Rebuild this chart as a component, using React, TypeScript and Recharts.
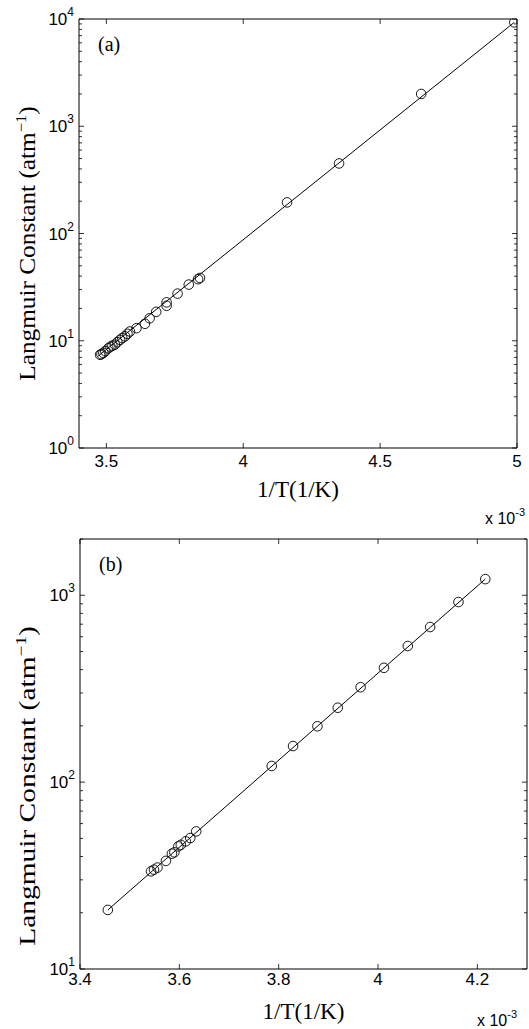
import React from "react";
import { ComposedChart, Scatter, Line, XAxis, YAxis, ReferenceArea } from "recharts";

// panel (a) — 1/T in units of 1e-3 1/K, Langmuir constant in atm^-1
const invTempA = [
  3.477, 3.482, 3.489, 3.496, 3.507, 3.515, 3.522, 3.531, 3.54, 3.55, 3.558, 3.568, 3.577,
  3.586, 3.61, 3.641, 3.658, 3.682, 3.72, 3.72, 3.76, 3.801, 3.835, 3.842, 4.16, 4.35, 4.65, 4.99,
];
const langmuirA = [
  7.4, 7.5, 7.7, 8.0, 8.5, 8.8, 9.0, 9.2, 9.7, 10.2, 10.6, 11.0, 11.6,
  12.2, 13.1, 14.4, 16.2, 18.6, 22.8, 21.2, 27.5, 33.4, 37.5, 38.5, 195, 450, 2000, 9300,
];
const fitInvTempA = [3.47, 4.99];
const fitLangmuirA = [7.2, 9300];
const xTicksA = [3.5, 4, 4.5, 5];
const yTicksA = [
  1, 2, 3, 4, 5, 6, 7, 8, 9,
  10, 20, 30, 40, 50, 60, 70, 80, 90,
  100, 200, 300, 400, 500, 600, 700, 800, 900,
  1000, 2000, 3000, 4000, 5000, 6000, 7000, 8000, 9000,
  10000,
];

// panel (b)
const invTempB = [
  3.456, 3.543, 3.549, 3.556, 3.573, 3.585, 3.59, 3.598, 3.603, 3.613, 3.622, 3.634,
  3.786, 3.829, 3.878, 3.919, 3.965, 4.012, 4.06, 4.105, 4.162, 4.216,
];
const langmuirB = [
  20.7, 33.3, 34.0, 34.9, 37.9, 41.4, 42.1, 45.3, 46.2, 48.2, 50.2, 54.5,
  122, 156, 199, 250, 322, 409, 535, 676, 920, 1220,
];
const fitInvTempB = [3.456, 4.216];
const fitLangmuirB = [20.7, 1220];
const xTicksB = [3.4, 3.6, 3.8, 4, 4.2];
const yTicksB = [
  10, 20, 30, 40, 50, 60, 70, 80, 90,
  100, 200, 300, 400, 500, 600, 700, 800, 900,
  1000, 2000,
];

const SANS = '"Liberation Sans", Arial, Helvetica, sans-serif';
const SERIF = '"Liberation Serif", "Times New Roman", Times, serif';

type PanelProps = {
  tag: string;
  xs: number[];
  ys: number[];
  fitX: number[];
  fitY: number[];
  xDomain: [number, number];
  yDomain: [number, number];
  xTicks: number[];
  yTicks: number[];
  width: number;
  height: number;
  right: number;
  yAxisWidth: number;
  xAxisHeight: number;
  tickDy: number;
  titleDy: number;
  expDx: number;
  expDy: number;
  yLabelDy: number;
  yLabelStretch: number;
};

function Panel(p: PanelProps) {
  const top = 19;
  const plotW = p.width - p.right - p.yAxisWidth;
  const plotH = p.height - top - p.xAxisHeight;
  const pts = p.xs.map((x, i) => ({ x, y: p.ys[i] }));
  const fit = p.fitX.map((x, i) => ({ x, y: p.fitY[i] }));

  const isDecade = (v: number) => {
    const l = Math.log10(v);
    return Math.abs(l - Math.round(l)) < 1e-9;
  };

  const xTick = (t: any) => {
    const { x, y, payload } = t;
    return (
      <g>
        <line x1={x} x2={x} y1={y} y2={y - 5} stroke="#000" strokeWidth={0.8} />
        <line x1={x} x2={x} y1={y - plotH} y2={y - plotH + 5} stroke="#000" strokeWidth={0.8} />
        <text x={x} y={y + p.tickDy} textAnchor="middle" fontFamily={SANS} fontSize={17} fill="#000">
          {String(payload.value)}
        </text>
      </g>
    );
  };

  const yTick = (t: any) => {
    const { x, y, payload } = t;
    const v = payload.value;
    const major = isDecade(v);
    const len = major ? 5 : 3;
    return (
      <g>
        <line x1={x} x2={x + len} y1={y} y2={y} stroke="#000" strokeWidth={0.8} />
        <line x1={x + plotW} x2={x + plotW - len} y1={y} y2={y} stroke="#000" strokeWidth={0.8} />
        {major && (
          <text x={x - 5} y={y + 6} textAnchor="end" fontFamily={SANS} fontSize={17} fill="#000">
            <tspan>10</tspan>
            <tspan dy={-9} fontSize={12}>{Math.round(Math.log10(v))}</tspan>
          </text>
        )}
      </g>
    );
  };

  const xLabel = (l: any) => {
    const vb = l.viewBox;
    return (
      <g>
        <text x={vb.x + vb.width / 2} y={vb.y + p.titleDy} textAnchor="middle" fontFamily={SERIF} fontSize={23} fill="#000">
          1/T(1/K)
        </text>
        <text x={vb.x + vb.width + p.expDx} y={vb.y + p.expDy} fontFamily={SANS} fontSize={16} fill="#000">
          <tspan>x 10</tspan>
          <tspan dy={-8} fontSize={11}>-3</tspan>
        </text>
      </g>
    );
  };

  const yLabel = (l: any) => {
    const vb = l.viewBox;
    const cx = 35;
    const cy = vb.y + vb.height / 2 + p.yLabelDy;
    return (
      <text
        x={0}
        y={0}
        transform={`translate(${cx}, ${cy}) rotate(-90) scale(${p.yLabelStretch}, 1)`}
        textAnchor="middle"
        fontFamily={SERIF}
        fontSize={23}
        fill="#000"
      >
        <tspan>Langmuir Constant (atm</tspan>
        <tspan dy={-9} fontSize={15}>−1</tspan>
        <tspan dy={9}>)</tspan>
      </text>
    );
  };

  const tagLabel = (l: any) => {
    const vb = l.viewBox;
    return (
      <text x={vb.x + 19} y={vb.y + 32} fontFamily={SERIF} fontSize={20} fill="#000">
        {p.tag}
      </text>
    );
  };

  return (
    <ComposedChart width={p.width} height={p.height} margin={{ top, right: p.right, bottom: 0, left: 0 }}>
      <XAxis
        type="number"
        dataKey="x"
        domain={p.xDomain}
        ticks={p.xTicks}
        interval={0}
        allowDataOverflow
        height={p.xAxisHeight}
        tick={xTick}
        tickLine={false}
        axisLine={false}
        tickSize={0}
        tickMargin={0}
        label={xLabel}
      />
      <YAxis
        type="number"
        dataKey="y"
        scale="log"
        domain={p.yDomain}
        ticks={p.yTicks}
        interval={0}
        allowDataOverflow
        width={p.yAxisWidth}
        tick={yTick}
        tickLine={false}
        axisLine={false}
        tickSize={0}
        tickMargin={0}
        label={yLabel}
      />
      <ReferenceArea
        x1={p.xDomain[0]}
        x2={p.xDomain[1]}
        y1={p.yDomain[0]}
        y2={p.yDomain[1]}
        fill="none"
        fillOpacity={0}
        stroke="#000"
        strokeWidth={1}
        label={tagLabel}
      />
      <Line
        data={fit}
        dataKey="y"
        type="linear"
        stroke="#000"
        strokeWidth={1}
        dot={false}
        isAnimationActive={false}
      />
      <Scatter
        data={pts}
        dataKey="y"
        isAnimationActive={false}
        shape={(s: any) => <circle cx={s.cx} cy={s.cy} r={4.8} fill="none" stroke="#000" strokeWidth={0.9} />}
      />
    </ComposedChart>
  );
}

export default function App() {
  return (
    <div style={{ position: "absolute", left: 0, top: 0, width: 529, height: 1029, background: "#fff" }}>
      <div style={{ position: "absolute", left: 0, top: 0 }}>
        <Panel
          tag="(a)"
          xs={invTempA}
          ys={langmuirA}
          fitX={fitInvTempA}
          fitY={fitLangmuirA}
          xDomain={[3.4, 5]}
          yDomain={[1, 10000]}
          xTicks={xTicksA}
          yTicks={yTicksA}
          width={529}
          height={532}
          right={12}
          yAxisWidth={79}
          xAxisHeight={84}
          tickDy={19}
          titleDy={49}
          expDx={-32}
          expDy={76}
          yLabelDy={10}
          yLabelStretch={1.1}
        />
      </div>
      <div style={{ position: "absolute", left: 0, top: 520 }}>
        <Panel
          tag="(b)"
          xs={invTempB}
          ys={langmuirB}
          fitX={fitInvTempB}
          fitY={fitLangmuirB}
          xDomain={[3.4, 4.3]}
          yDomain={[10, 2000]}
          xTicks={xTicksB}
          yTicks={yTicksB}
          width={529}
          height={509}
          right={2}
          yAxisWidth={80}
          xAxisHeight={60}
          tickDy={16}
          titleDy={50}
          expDx={-50}
          expDy={57}
          yLabelDy={32}
          yLabelStretch={1.28}
        />
      </div>
    </div>
  );
}
